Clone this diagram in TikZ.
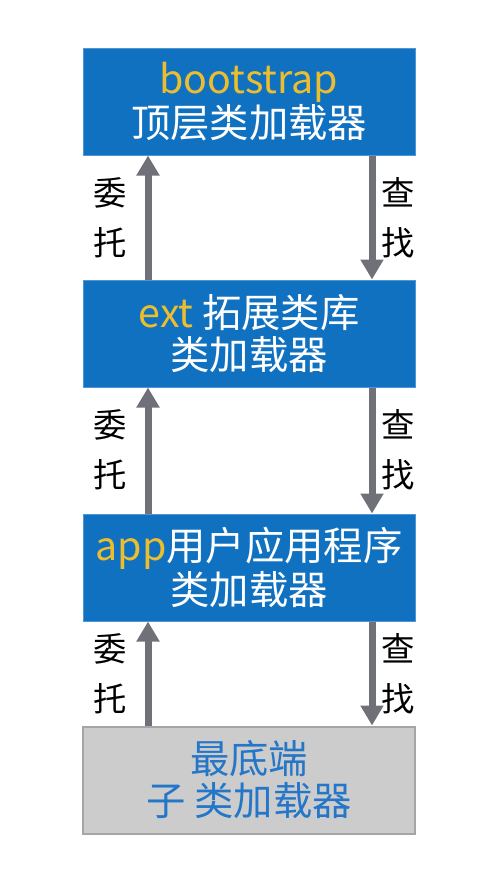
\documentclass[tikz,border=0pt]{standalone}
\usepackage{fontspec}
\setmainfont{Noto Sans CJK SC}
\usetikzlibrary{arrows.meta}

\definecolor{boxblue}{RGB}{17,113,193}
\definecolor{boxedge}{RGB}{80,150,215}
\definecolor{keyyellow}{RGB}{236,190,45}
\definecolor{leafgray}{RGB}{204,204,204}
\definecolor{leafedge}{RGB}{165,165,165}
\definecolor{leaftext}{RGB}{35,118,200}
\definecolor{flowgray}{RGB}{112,113,120}

\tikzset{every picture/.style={line width=0.75pt}}
\tikzset{
  loaderbox/.style={draw=boxedge, fill=boxblue, text=white, align=center,
    minimum width=249pt, minimum height=80.25pt, inner sep=0pt,
    font=\fontsize{29.5}{31.5}\selectfont},
  leafbox/.style={loaderbox, draw=leafedge, fill=leafgray, text=leaftext, line width=1.5pt},
  flowline/.style={draw=flowgray, line width=5.25pt, -{Triangle[width=16.5pt,length=15pt]}},
  flowlabel/.style={align=center, inner sep=0pt, font=\fontsize{25}{37.5}\selectfont}
}

\begin{document}
\begin{tikzpicture}[x=0.75pt,y=0.75pt,yscale=-1,xscale=1]
\useasboundingbox (0,0) rectangle (498,879);

%Shape: Rectangle [id:top]
\node [loaderbox] (boot) at (249,101.5) {\textcolor{keyyellow}{bootstrap}\\顶层类加载器};
%Shape: Rectangle [id:ext]
\node [loaderbox] (ext) at (249,333.5) {\textcolor{keyyellow}{ext} 拓展类库\\类加载器};
%Shape: Rectangle [id:app]
\node [loaderbox] (app) at (249,567.5) {\textcolor{keyyellow}{app}用户应用程序\\类加载器};
%Shape: Rectangle [id:leaf]
\node [leafbox] (leaf) at (249,780) {最底端\\子 类加载器};

\coordinate (up) at (148,0);
\coordinate (down) at (372,0);

%Straight Lines [id:delegate]
\draw [flowline] (ext.north -| up) -- (boot.south -| up);
\draw [flowline] (app.north -| up) -- (ext.south -| up);
\draw [flowline] (leaf.north -| up) -- (app.south -| up);
%Straight Lines [id:lookup]
\draw [flowline] (boot.south -| down) -- (ext.north -| down);
\draw [flowline] (ext.south -| down) -- (app.north -| down);
\draw [flowline] (app.south -| down) -- (leaf.north -| down);

% Text Node
\node [flowlabel] (d1) at (110,218) {委\\托};
\node [flowlabel] (d2) at (110,450) {委\\托};
\node [flowlabel] (d3) at (110,674) {委\\托};
% Text Node
\node [flowlabel] (f1) at (398,218) {查\\找};
\node [flowlabel] (f2) at (398,450) {查\\找};
\node [flowlabel] (f3) at (398,674) {查\\找};

\end{tikzpicture}
\end{document}
